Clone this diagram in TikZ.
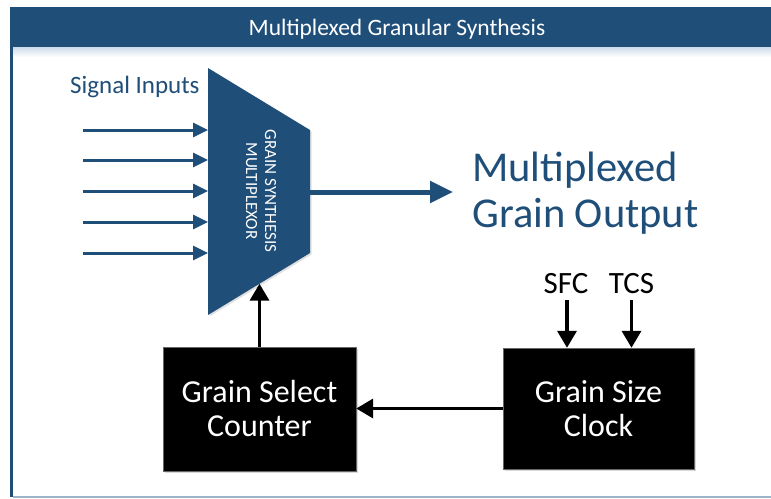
\documentclass[tikz,border=0pt]{standalone}
\usepackage{fontspec}
\setmainfont{Carlito}
\usetikzlibrary{arrows.meta,calc,shadows}
\definecolor{dblue}{RGB}{31,78,121}
\definecolor{frameline}{RGB}{157,179,200}
\definecolor{barshade}{RGB}{205,218,233}
\begin{document}
\begin{tikzpicture}[x=1pt,y=-1pt,
  inarrow/.style={draw=dblue,line width=3pt,-{Triangle[length=15pt,width=14pt]}},
  outarrow/.style={draw=dblue,line width=5pt,-{Triangle[length=23pt,width=21pt]}},
  blkarrow/.style={draw=black,line width=3.5pt,-{Triangle[length=17pt,width=19pt]}},
  blkbox/.style={fill=black,draw=black!60,line width=0.4pt,minimum width=#1,text=white,align=center,
     font=\fontsize{32}{34}\selectfont,inner sep=0pt,
     drop shadow={shadow xshift=1.5pt,shadow yshift=-1.5pt,fill=black!30,opacity=.5}},
  bluetext/.style={text=dblue,inner sep=0pt}]
\useasboundingbox (0,0) rectangle (771,498);
% frame
\shade[top color=barshade,bottom color=white] (13,47) rectangle (771,57);
\fill[dblue] (10,7) rectangle (771,47);
\draw[dblue,line width=3pt] (11.5,47) -- (11.5,497);
\draw[frameline,line width=2pt] (13,497) -- (771,497);
\node[text=white,inner sep=0pt,anchor=base,font=\fontsize{23.5}{26}\selectfont] (title) at (397,35) {Multiplexed Granular Synthesis};
% multiplexer
\coordinate (mtl) at (208,68);
\coordinate (mtr) at (310,130);
\coordinate (mbr) at (310,253);
\coordinate (mbl) at (208,315);
\fill[dblue,drop shadow={shadow xshift=1.5pt,shadow yshift=-1.5pt,fill=black!30,opacity=.4}] (mtl) -- (mtr) -- (mbr) -- (mbl) -- cycle;
\node[text=white,rotate=-90,align=center,inner sep=0pt,font=\fontsize{17}{19}\selectfont] (mux) at (261,191) {GRAIN SYNTHESIS\\MULTIPLEXOR};
% inputs
\node[bluetext,anchor=base west,font=\fontsize{25}{28}\selectfont] (sig) at (70,93) {Signal Inputs};
\foreach \i/\y in {1/130,2/160,3/191,4/222,5/253}{
  \coordinate (in\i s) at (83,\y);
  \coordinate (in\i e) at (208,\y);
  \draw[inarrow] (in\i s) -- (in\i e);
}
% output
\node[bluetext,anchor=west,align=left,font=\fontsize{42.5}{46}\selectfont] (out) at (472,193) {Multiplexed\\Grain Output};
\coordinate (mxout) at (310,192);
\coordinate (outtip) at (453,192);
\draw[outarrow] (mxout) -- (outtip);
% boxes
\node[blkbox=193pt,minimum height=124pt] (cnt) at (259.5,409) {Grain Select\\Counter};
\node[blkbox=191pt,minimum height=121pt] (clk) at (598.5,408.5) {Grain Size\\Clock};
\coordinate (mxin) at (259.5,283.7);
\draw[blkarrow] (cnt.north) -- (mxin);
\draw[blkarrow] (clk.west) -- (cnt.east |- clk.west);
% clock inputs
\node[inner sep=0pt,anchor=base,font=\fontsize{31}{33}\selectfont] (sfc) at (566,293) {SFC};
\node[inner sep=0pt,anchor=base,font=\fontsize{31}{33}\selectfont] (tcs) at (631.5,293) {TCS};
\coordinate (sfcs) at ($(sfc.base)+(1,7)$);
\coordinate (tcss) at ($(tcs.base)+(0,7)$);
\draw[blkarrow] (sfcs) -- (sfcs |- clk.north);
\draw[blkarrow] (tcss) -- (tcss |- clk.north);
\end{tikzpicture}
\end{document}
